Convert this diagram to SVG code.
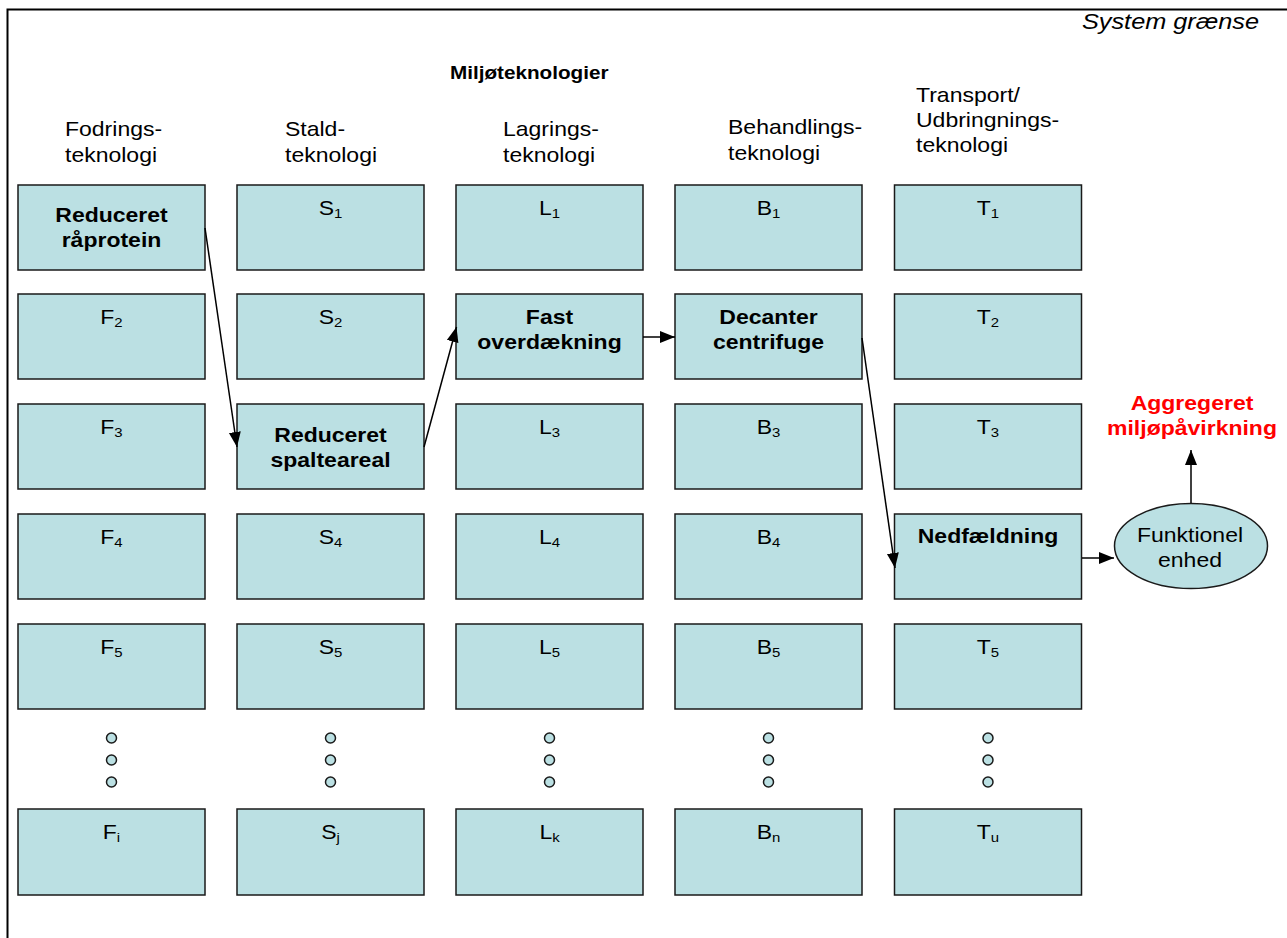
<svg xmlns="http://www.w3.org/2000/svg" width="1287" height="938" viewBox="0 0 1287 938">
<style>
text{font-family:"Liberation Sans",Arial,sans-serif;fill:#000}
.h{font-size:20px}
.lb{font-size:20px;text-anchor:middle}
.b{font-weight:bold}
.sub{font-size:13px}
.box{fill:#BBE0E3;stroke:#1a1a1a;stroke-width:1.5}
.dot{fill:#BBE0E3;stroke:#1a1a1a;stroke-width:1.5}
.con{stroke:#000;stroke-width:1.5;fill:none}
</style>
<defs>
<marker id="ah" markerUnits="userSpaceOnUse" markerWidth="16" markerHeight="14" refX="15" refY="6" orient="auto"><path d="M0,0 L15,6 L0,12 Z" fill="#000"/></marker>
</defs>
<rect width="1287" height="938" fill="#fff"/>
<rect x="7.5" y="9.5" width="1300" height="950" fill="none" stroke="#000" stroke-width="2"/>
<text transform="translate(1259,29) scale(1.15,1)" style="font-size:22px;font-style:italic;text-anchor:end">System grænse</text>
<text transform="translate(450,79) scale(1.15,1)" class="b" style="font-size:18px">Miljøteknologier</text>
<g id="headers">
<text class="h" transform="translate(65,136) scale(1.15,1)">Fodrings-<tspan x="0" dy="26">teknologi</tspan></text>
<text class="h" transform="translate(285,136) scale(1.15,1)">Stald-<tspan x="0" dy="26">teknologi</tspan></text>
<text class="h" transform="translate(503,136) scale(1.15,1)">Lagrings-<tspan x="0" dy="26">teknologi</tspan></text>
<text class="h" transform="translate(728,134) scale(1.15,1)">Behandlings-<tspan x="0" dy="26">teknologi</tspan></text>
<text class="h" transform="translate(916,102) scale(1.15,1)">Transport/<tspan x="0" dy="25">Udbringnings-</tspan><tspan x="0" dy="25">teknologi</tspan></text>
</g>
<g id="col-F">
<g id="F1"><rect class="box" x="18" y="185" width="187" height="85"/><text class="lb b" transform="translate(111.5,222) scale(1.15,1)">Reduceret<tspan x="0" dy="25">råprotein</tspan></text></g>
<g id="F2"><rect class="box" x="18" y="294" width="187" height="85"/><text class="lb" transform="translate(111.5,324) scale(1.15,1)">F<tspan class="sub" dy="3">2</tspan></text></g>
<g id="F3"><rect class="box" x="18" y="404" width="187" height="85"/><text class="lb" transform="translate(111.5,434) scale(1.15,1)">F<tspan class="sub" dy="3">3</tspan></text></g>
<g id="F4"><rect class="box" x="18" y="514" width="187" height="85"/><text class="lb" transform="translate(111.5,544) scale(1.15,1)">F<tspan class="sub" dy="3">4</tspan></text></g>
<g id="F5"><rect class="box" x="18" y="624" width="187" height="85"/><text class="lb" transform="translate(111.5,654) scale(1.15,1)">F<tspan class="sub" dy="3">5</tspan></text></g>
<g id="Fdots"><circle class="dot" cx="111.5" cy="738" r="5"/><circle class="dot" cx="111.5" cy="760" r="5"/><circle class="dot" cx="111.5" cy="782" r="5"/></g>
<g id="Fi"><rect class="box" x="18" y="809" width="187" height="86"/><text class="lb" transform="translate(111.5,839) scale(1.15,1)">F<tspan class="sub" dy="3">i</tspan></text></g>
</g>
<g id="col-S">
<g id="S1"><rect class="box" x="237" y="185" width="187" height="85"/><text class="lb" transform="translate(330.5,215) scale(1.15,1)">S<tspan class="sub" dy="3">1</tspan></text></g>
<g id="S2"><rect class="box" x="237" y="294" width="187" height="85"/><text class="lb" transform="translate(330.5,324) scale(1.15,1)">S<tspan class="sub" dy="3">2</tspan></text></g>
<g id="S3"><rect class="box" x="237" y="404" width="187" height="85"/><text class="lb b" transform="translate(330.5,442) scale(1.15,1)">Reduceret<tspan x="0" dy="25">spalteareal</tspan></text></g>
<g id="S4"><rect class="box" x="237" y="514" width="187" height="85"/><text class="lb" transform="translate(330.5,544) scale(1.15,1)">S<tspan class="sub" dy="3">4</tspan></text></g>
<g id="S5"><rect class="box" x="237" y="624" width="187" height="85"/><text class="lb" transform="translate(330.5,654) scale(1.15,1)">S<tspan class="sub" dy="3">5</tspan></text></g>
<g id="Sdots"><circle class="dot" cx="330.5" cy="738" r="5"/><circle class="dot" cx="330.5" cy="760" r="5"/><circle class="dot" cx="330.5" cy="782" r="5"/></g>
<g id="Sj"><rect class="box" x="237" y="809" width="187" height="86"/><text class="lb" transform="translate(330.5,839) scale(1.15,1)">S<tspan class="sub" dy="3">j</tspan></text></g>
</g>
<g id="col-L">
<g id="L1"><rect class="box" x="456" y="185" width="187" height="85"/><text class="lb" transform="translate(549.5,215) scale(1.15,1)">L<tspan class="sub" dy="3">1</tspan></text></g>
<g id="L2"><rect class="box" x="456" y="294" width="187" height="85"/><text class="lb b" transform="translate(549.5,324) scale(1.15,1)">Fast<tspan x="0" dy="25">overdækning</tspan></text></g>
<g id="L3"><rect class="box" x="456" y="404" width="187" height="85"/><text class="lb" transform="translate(549.5,434) scale(1.15,1)">L<tspan class="sub" dy="3">3</tspan></text></g>
<g id="L4"><rect class="box" x="456" y="514" width="187" height="85"/><text class="lb" transform="translate(549.5,544) scale(1.15,1)">L<tspan class="sub" dy="3">4</tspan></text></g>
<g id="L5"><rect class="box" x="456" y="624" width="187" height="85"/><text class="lb" transform="translate(549.5,654) scale(1.15,1)">L<tspan class="sub" dy="3">5</tspan></text></g>
<g id="Ldots"><circle class="dot" cx="549.5" cy="738" r="5"/><circle class="dot" cx="549.5" cy="760" r="5"/><circle class="dot" cx="549.5" cy="782" r="5"/></g>
<g id="Lk"><rect class="box" x="456" y="809" width="187" height="86"/><text class="lb" transform="translate(549.5,839) scale(1.15,1)">L<tspan class="sub" dy="3">k</tspan></text></g>
</g>
<g id="col-B">
<g id="B1"><rect class="box" x="675" y="185" width="187" height="85"/><text class="lb" transform="translate(768.5,215) scale(1.15,1)">B<tspan class="sub" dy="3">1</tspan></text></g>
<g id="B2"><rect class="box" x="675" y="294" width="187" height="85"/><text class="lb b" transform="translate(768.5,324) scale(1.15,1)">Decanter<tspan x="0" dy="25">centrifuge</tspan></text></g>
<g id="B3"><rect class="box" x="675" y="404" width="187" height="85"/><text class="lb" transform="translate(768.5,434) scale(1.15,1)">B<tspan class="sub" dy="3">3</tspan></text></g>
<g id="B4"><rect class="box" x="675" y="514" width="187" height="85"/><text class="lb" transform="translate(768.5,544) scale(1.15,1)">B<tspan class="sub" dy="3">4</tspan></text></g>
<g id="B5"><rect class="box" x="675" y="624" width="187" height="85"/><text class="lb" transform="translate(768.5,654) scale(1.15,1)">B<tspan class="sub" dy="3">5</tspan></text></g>
<g id="Bdots"><circle class="dot" cx="768.5" cy="738" r="5"/><circle class="dot" cx="768.5" cy="760" r="5"/><circle class="dot" cx="768.5" cy="782" r="5"/></g>
<g id="Bn"><rect class="box" x="675" y="809" width="187" height="86"/><text class="lb" transform="translate(768.5,839) scale(1.15,1)">B<tspan class="sub" dy="3">n</tspan></text></g>
</g>
<g id="col-T">
<g id="T1"><rect class="box" x="894.5" y="185" width="187" height="85"/><text class="lb" transform="translate(988,215) scale(1.15,1)">T<tspan class="sub" dy="3">1</tspan></text></g>
<g id="T2"><rect class="box" x="894.5" y="294" width="187" height="85"/><text class="lb" transform="translate(988,324) scale(1.15,1)">T<tspan class="sub" dy="3">2</tspan></text></g>
<g id="T3"><rect class="box" x="894.5" y="404" width="187" height="85"/><text class="lb" transform="translate(988,434) scale(1.15,1)">T<tspan class="sub" dy="3">3</tspan></text></g>
<g id="T4"><rect class="box" x="894.5" y="514" width="187" height="85"/><text class="lb b" transform="translate(988,543) scale(1.15,1)">Nedfældning</text></g>
<g id="T5"><rect class="box" x="894.5" y="624" width="187" height="85"/><text class="lb" transform="translate(988,654) scale(1.15,1)">T<tspan class="sub" dy="3">5</tspan></text></g>
<g id="Tdots"><circle class="dot" cx="988" cy="738" r="5"/><circle class="dot" cx="988" cy="760" r="5"/><circle class="dot" cx="988" cy="782" r="5"/></g>
<g id="Tu"><rect class="box" x="894.5" y="809" width="187" height="86"/><text class="lb" transform="translate(988,839) scale(1.15,1)">T<tspan class="sub" dy="3">u</tspan></text></g>
</g>
<g id="funktionel">
<ellipse class="box" cx="1191" cy="546" rx="76.5" ry="42.5"/>
<text class="lb" transform="translate(1190,542) scale(1.15,1)">Funktionel<tspan x="0" dy="25">enhed</tspan></text>
</g>
<g id="aggregeret">
<text class="lb b" transform="translate(1192,410) scale(1.15,1)" style="fill:#FF0000">Aggregeret<tspan x="0" dy="25">miljøpåvirkning</tspan></text>
</g>
<g id="connectors">
<line class="con" x1="205" y1="228" x2="237" y2="447" marker-end="url(#ah)"/>
<line class="con" x1="424" y1="447" x2="456.5" y2="327" marker-end="url(#ah)"/>
<line class="con" x1="643" y1="337" x2="675" y2="337" marker-end="url(#ah)"/>
<line class="con" x1="862" y1="338" x2="895" y2="568" marker-end="url(#ah)"/>
<line class="con" x1="1082" y1="558" x2="1114" y2="558" marker-end="url(#ah)"/>
<line class="con" x1="1191" y1="503" x2="1191" y2="450" marker-end="url(#ah)"/>
</g>
</svg>
